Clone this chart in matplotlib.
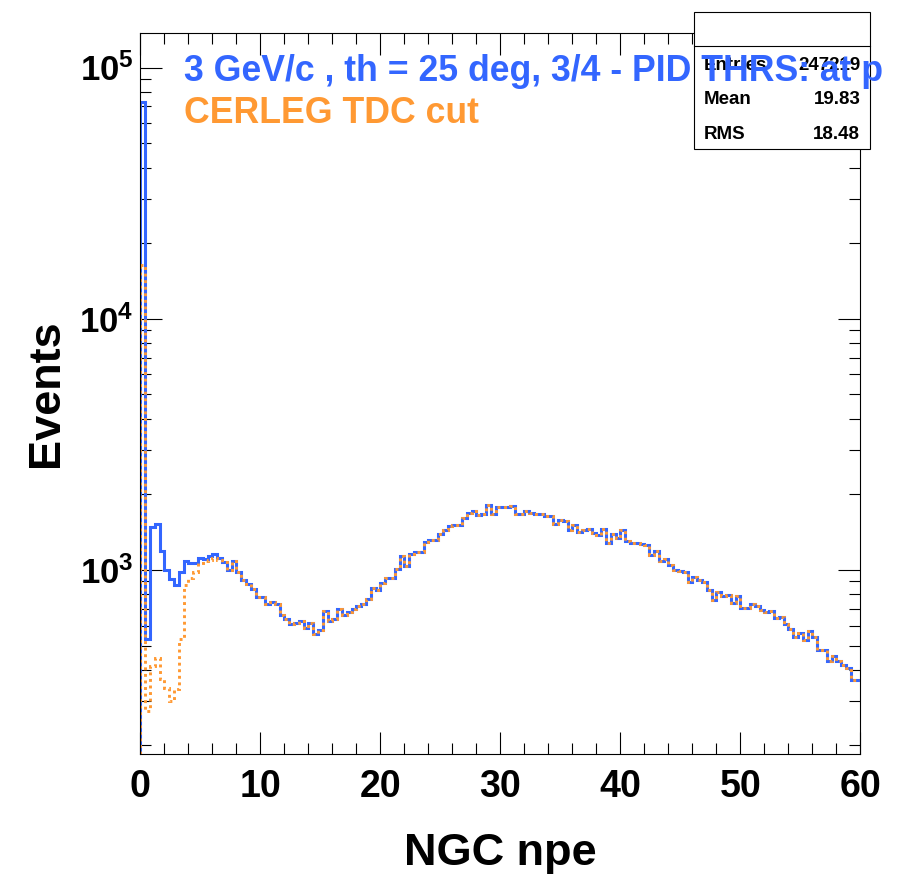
import numpy as np
import matplotlib
matplotlib.use("Agg")
import matplotlib.pyplot as plt
from matplotlib import ticker
from matplotlib.patches import Rectangle
from matplotlib.lines import Line2D

plt.rcParams['font.family'] = ['Liberation Sans', 'DejaVu Sans']
plt.rcParams['font.weight'] = 'bold'
plt.rcParams['mathtext.fontset'] = 'custom'
plt.rcParams['mathtext.rm'] = 'Liberation Sans:bold'
plt.rcParams['mathtext.bf'] = 'Liberation Sans:bold'
plt.rcParams['mathtext.it'] = 'Liberation Sans:bold'

# ---------------- data ----------------
nbins, xmin, xmax = 150, 0.0, 60.0

# all events (blue, solid)
npe_all = [
    72800, 532, 1481, 1527, 1185, 1002, 923, 873, 980, 1081,
    1065, 1065, 1118, 1108, 1132, 1153, 1118, 1074, 1002, 1081,
    980, 908, 881, 841, 779, 779, 733, 744, 733, 663,
    639, 610, 614, 624, 589, 616, 557, 578, 685, 625,
    639, 700, 659, 683, 696, 716, 733, 768, 849, 834,
    889, 931, 931, 1011, 1132, 1033, 1160, 1182, 1182, 1295,
    1321, 1319, 1394, 1437, 1491, 1514, 1514, 1614, 1690, 1710,
    1649, 1675, 1818, 1675, 1779, 1779, 1779, 1795, 1664, 1675,
    1715, 1690, 1675, 1675, 1644, 1633, 1518, 1575, 1560, 1437,
    1514, 1420, 1446, 1459, 1407, 1372, 1459, 1283, 1394, 1344,
    1446, 1307, 1279, 1279, 1271, 1252, 1142, 1185, 1081, 1108,
    1049, 1002, 989, 980, 892, 936, 908, 894, 834, 761,
    818, 790, 798, 738, 784, 707, 707, 729, 716, 694,
    679, 685, 645, 649, 607, 583, 543, 560, 528, 570,
    543, 478, 481, 432, 456, 432, 420, 408, 366, 366,
]

# with CERLEG TDC cut (orange, dotted): differs only in the first bins
npe_cut_low = [16300, 275, 416, 447, 367, 339, 302, 336, 532, 867,
               931, 980, 1068, 1081, 1091, 1118, 1098]
npe_cut = npe_cut_low + npe_all[len(npe_cut_low):]

title_text = "3 GeV/c , th = 25 deg, 3/4 - PID THRS: at p"
cut_text = "CERLEG TDC cut"
stats_names = ["Entries", "Mean", "RMS"]
stats_values = ["247219", "19.83", "18.48"]
x_ticks = [0, 10, 20, 30, 40, 50, 60]
x_label = "NGC npe"
y_label = "Events"

blue = '#3366ff'
orange = '#ff9933'

# ---------------- figure ----------------
W, H = 898, 876
fig = plt.figure(figsize=(W / 100, H / 100), dpi=100)

def fx(px):
    return px / W

def fy(py):
    return 1 - py / H

left, right, top, bottom = 140.4, 860.3, 33.2, 754.0
ax = fig.add_axes([fx(left), fy(bottom), fx(right - left), (bottom - top) / H])

ymin_ax, ymax_ax = 185, 137000
edges = np.linspace(xmin, xmax, nbins + 1)
blue_kw = dict(color=blue, lw=2.2, zorder=3)
orange_kw = dict(color=orange, lw=2.1, linestyle=(0, (1.0, 1.25)), zorder=4)
ax.stairs(npe_all, edges, baseline=None, **blue_kw)
ax.vlines(edges[0], ymin_ax, npe_all[0], **blue_kw)
ax.stairs(npe_cut, edges, baseline=None, **orange_kw)
ax.vlines(edges[0], ymin_ax, npe_cut[0], **orange_kw)

ax.set_yscale('log')
ax.set_xlim(xmin, xmax)
ax.set_ylim(ymin_ax, ymax_ax)

ax.set_xticks(x_ticks)
ax.xaxis.set_minor_locator(ticker.MultipleLocator(2))
ax.yaxis.set_major_locator(ticker.LogLocator(base=10))
ax.yaxis.set_minor_locator(ticker.LogLocator(base=10, subs=np.arange(2, 10)))
ax.yaxis.set_minor_formatter(ticker.NullFormatter())
ax.yaxis.set_major_formatter(ticker.FuncFormatter(
    lambda v, p: r'$\mathbf{10^{%d}}$' % int(round(np.log10(v)))))

for s in ax.spines.values():
    s.set_linewidth(0.8)
    s.set_zorder(5)

ax.tick_params(which='both', direction='in', top=True, right=True, width=0.8,
               colors='black')
ax.tick_params(which='major', length=15.8)
ax.tick_params(which='minor', length=7.9)
ax.tick_params(axis='x', which='major', labelsize=27, pad=11)
ax.tick_params(axis='y', which='major', labelsize=25, pad=5)
for lab in ax.get_xticklabels():
    lab.set_fontweight('bold')

ax.set_xlabel(x_label, fontsize=32.5, fontweight='bold')
ax.xaxis.label.set_va('baseline')
ax.xaxis.set_label_coords(0.5, -(865.5 - bottom) / (bottom - top))

ax.set_ylabel(y_label, fontsize=32.5, fontweight='bold')
ax.yaxis.label.set(rotation_mode='anchor', va='baseline', ha='center')
ax.yaxis.set_label_coords(-(left - 58) / (right - left), 0.5)

# ---------------- stats box ----------------
bx0, bx1, by0, by1, bsep = 694.3, 870.3, 12.3, 149.0, 46.0
fig.add_artist(Rectangle((fx(bx0), fy(by1)), fx(bx1 - bx0), (by1 - by0) / H,
                         transform=fig.transFigure, facecolor='white',
                         edgecolor='black', lw=0.8, zorder=5))
fig.add_artist(Line2D([fx(bx0), fx(bx1)], [fy(bsep), fy(bsep)],
                      transform=fig.transFigure, color='black', lw=0.8, zorder=6))
for i, (nm, val) in enumerate(zip(stats_names, stats_values)):
    yb = 70.0 + 34.5 * i
    fig.text(fx(704), fy(yb), nm, fontsize=13.5, fontweight='bold',
             va='baseline', ha='left', zorder=7)
    fig.text(fx(860.3), fy(yb), val, fontsize=13.5, fontweight='bold',
             va='baseline', ha='right', zorder=7)

# ---------------- legend-like texts ----------------
fig.text(fx(184), fy(80.7), title_text, color=blue, fontsize=25.7,
         fontweight='bold', va='baseline', ha='left', zorder=10)
fig.text(fx(184), fy(123.3), cut_text, color=orange, fontsize=25.7,
         fontweight='bold', va='baseline', ha='left', zorder=10)

fig.savefig('out.png', dpi=100)
